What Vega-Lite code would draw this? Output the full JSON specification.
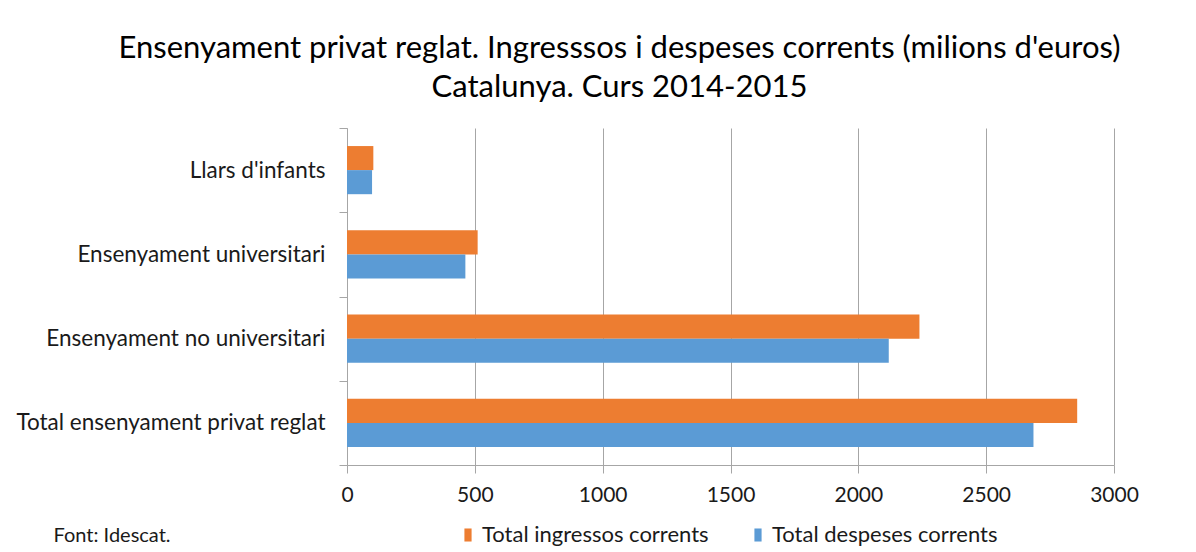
{
  "$schema": "https://vega.github.io/schema/vega-lite/v6.json",
  "width": 767,
  "height": 337,
  "autosize": {"type": "none"},
  "padding": {"left": 347, "top": 128, "right": 82, "bottom": 87},
  "background": "white",
  "config": {
    "font": "Lato",
    "view": {"stroke": null}
  },
  "title": {
    "text": ["Ensenyament privat reglat. Ingresssos i despeses corrents (milions d'euros)", "Catalunya. Curs 2014-2015"],
    "anchor": "middle",
    "dx": -111,
    "offset": 13,
    "fontSize": 31,
    "lineHeight": 39,
    "fontWeight": "normal",
    "font": "Lato",
    "color": "#000000"
  },
  "data": {
    "values": [
      {"categoria": "Llars d'infants", "serie": "Total ingressos corrents", "valor": 103},
      {"categoria": "Llars d'infants", "serie": "Total despeses corrents", "valor": 98},
      {"categoria": "Ensenyament universitari", "serie": "Total ingressos corrents", "valor": 511},
      {"categoria": "Ensenyament universitari", "serie": "Total despeses corrents", "valor": 463},
      {"categoria": "Ensenyament no universitari", "serie": "Total ingressos corrents", "valor": 2239},
      {"categoria": "Ensenyament no universitari", "serie": "Total despeses corrents", "valor": 2119},
      {"categoria": "Total ensenyament privat reglat", "serie": "Total ingressos corrents", "valor": 2856},
      {"categoria": "Total ensenyament privat reglat", "serie": "Total despeses corrents", "valor": 2685}
    ]
  },
  "mark": {"type": "bar"},
  "encoding": {
    "y": {
      "field": "categoria",
      "type": "nominal",
      "sort": ["Llars d'infants", "Ensenyament universitari", "Ensenyament no universitari", "Total ensenyament privat reglat"],
      "scale": {"paddingInner": 0, "paddingOuter": 0},
      "axis": {
        "title": null,
        "tickBand": "extent",
        "labelFontSize": 22.5,
        "labelColor": "#1a1a1a",
        "labelPadding": 14,
        "tickSize": 8,
        "tickColor": "#a6a6a6",
        "domainColor": "#a6a6a6",
        "labelLimit": 400,
        "grid": false
      }
    },
    "yOffset": {
      "field": "serie",
      "type": "nominal",
      "sort": ["Total ingressos corrents", "Total despeses corrents"],
      "scale": {"paddingInner": 0, "paddingOuter": 0.75}
    },
    "x": {
      "field": "valor",
      "type": "quantitative",
      "scale": {"domain": [0, 3000], "nice": false},
      "axis": {
        "values": [0, 500, 1000, 1500, 2000, 2500, 3000],
        "format": "d",
        "labelFlush": false,
        "labelFontSize": 21,
        "labelColor": "#1a1a1a",
        "labelPadding": 11,
        "tickSize": 8,
        "tickColor": "#a6a6a6",
        "domainColor": "#a6a6a6",
        "gridColor": "#a6a6a6",
        "grid": true,
        "title": "Font: Idescat.",
        "titleFontSize": 20,
        "titleFontWeight": "normal",
        "titleColor": "#1a1a1a",
        "titleAnchor": "start",
        "titleAlign": "left",
        "titleBaseline": "middle",
        "titleX": -294,
        "titleY": 70
      }
    },
    "color": {
      "field": "serie",
      "type": "nominal",
      "sort": ["Total ingressos corrents", "Total despeses corrents"],
      "scale": {"range": ["#ED7D31", "#5B9BD5"]},
      "legend": {
        "title": null,
        "orient": "none",
        "direction": "horizontal",
        "legendX": 110,
        "legendY": 396,
        "symbolType": "M-0.55,-1H0.55V1H-0.55Z",
        "symbolSize": 170,
        "symbolStrokeWidth": 0,
        "labelFontSize": 22,
        "labelColor": "#1a1a1a",
        "labelOffset": 3,
        "labelLimit": 400,
        "columnPadding": 38
      }
    }
  }
}
